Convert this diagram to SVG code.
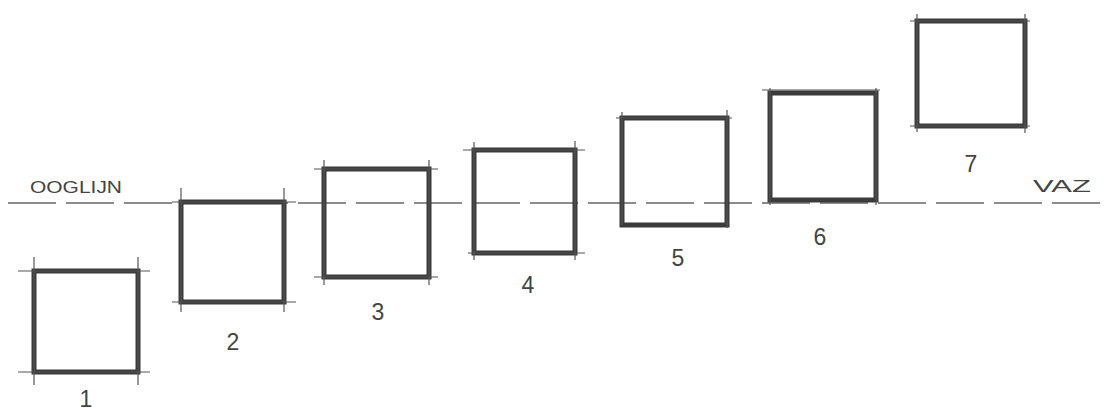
<svg xmlns="http://www.w3.org/2000/svg" width="1111" height="412" viewBox="0 0 1111 412">
<style>
.box{fill:none;stroke:#3b3b3b;stroke-width:5;stroke-linejoin:miter}
.tick{stroke:#555;stroke-width:1.2}
.num{font-family:"Liberation Sans",Arial,sans-serif;font-size:23px;fill:#444;text-anchor:middle}
.lbl{font-family:"Liberation Sans",Arial,sans-serif;font-size:16px;fill:#444}
.eye{fill:none;stroke:#666;stroke-width:1.4;stroke-dasharray:48 10}
</style>
<rect width="1111" height="412" fill="#fff"/>
<g id="connectors">
<path class="eye" d="M8 203 L1100 203"/>
</g>
<g id="label-ooglijn"><text class="lbl" x="30" y="193" textLength="92" lengthAdjust="spacingAndGlyphs">OOGLIJN</text></g>
<g id="label-vaz"><text class="lbl" x="1033" y="192" textLength="58" lengthAdjust="spacingAndGlyphs">VAZ</text></g>
<g id="node1">
<rect class="box" x="34" y="271" width="104" height="101"/>
<path class="tick" d="M18 271H150M18 372H150M34 257V385M138 257V385"/>
<text class="num" x="86" y="407">1</text>
</g>
<g id="node2">
<rect class="box" x="181" y="202" width="103" height="100"/>
<path class="tick" d="M172 202H296M172 302H296M181 188V312M284 188V312"/>
<text class="num" x="233" y="350">2</text>
</g>
<g id="node3">
<rect class="box" x="324" y="169" width="105" height="108"/>
<path class="tick" d="M314 169H438M314 277H438M324 160V285M429 160V285"/>
<text class="num" x="378" y="320">3</text>
</g>
<g id="node4">
<rect class="box" x="474" y="150" width="101" height="103"/>
<path class="tick" d="M463 150H585M468 253H585M474 142V260M575 141V260"/>
<text class="num" x="528" y="293">4</text>
</g>
<g id="node5">
<rect class="box" x="622" y="118" width="105" height="107"/>
<path class="tick" d="M616 118H732M622 112V225M727 110V228"/>
<text class="num" x="678" y="266">5</text>
</g>
<g id="node6">
<rect class="box" x="770" y="93" width="106" height="107"/>
<path class="tick" d="M762 90H880M770 88V205M876 88V205"/>
<text class="num" x="820" y="245">6</text>
</g>
<g id="node7">
<rect class="box" x="917" y="21" width="108" height="105"/>
<path class="tick" d="M910 21H1030M910 126H1030M917 14V132M1025 14V133"/>
<text class="num" x="971" y="172">7</text>
</g>
</svg>
